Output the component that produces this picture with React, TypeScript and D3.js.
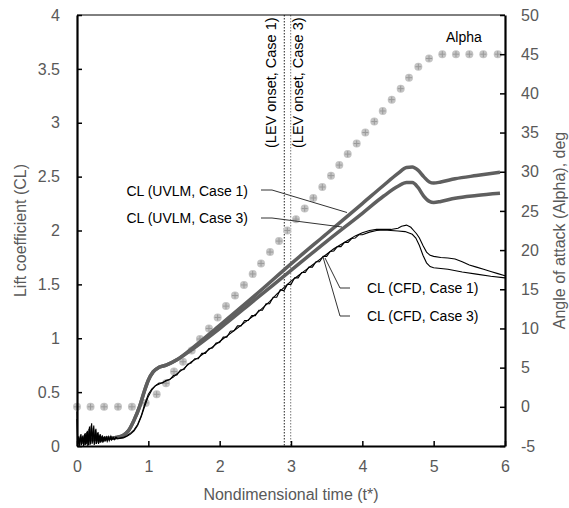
import * as d3 from "d3";
import React, { useRef, useEffect } from "react";

// alpha (deg) markers, right axis
const alphaT = [0, 0.19, 0.38, 0.575, 0.77, 0.963, 1.117, 1.248, 1.36, 1.486, 1.608, 1.724, 1.85, 1.972, 2.089, 2.215, 2.341, 2.463, 2.58, 2.706, 2.832, 2.948, 3.07, 3.192, 3.313, 3.439, 3.561, 3.677, 3.795, 3.921, 4.042, 4.168, 4.286, 4.412, 4.538, 4.654, 4.785, 4.935, 5.121, 5.313, 5.5, 5.696, 5.898];
const alphaDeg = [0, 0, 0, 0, 0, 0.5, 1.6, 3.0, 4.5, 5.75, 7.2, 8.65, 10.0, 11.4, 12.85, 14.2, 15.55, 16.95, 18.3, 19.75, 21.15, 22.5, 23.95, 25.3, 26.65, 28.05, 29.5, 30.85, 32.25, 33.6, 35.0, 36.4, 37.75, 39.2, 40.6, 42.0, 43.4, 44.45, 45, 45, 45, 45, 45];

// UVLM lift
const uvlmT = [0, 0.2, 0.4, 0.55, 0.65, 0.72, 0.8, 0.88, 0.95, 1.0, 1.07, 1.15, 1.25, 1.4, 1.6, 2.0, 2.5, 3.0, 3.5, 4.0, 4.3, 4.5, 4.62, 4.7, 4.78, 4.86, 4.94, 5.0, 5.1, 5.3, 5.6, 5.93];
const uvlmCase1 = [0.06, 0.06, 0.07, 0.08, 0.1, 0.14, 0.24, 0.37, 0.52, 0.61, 0.69, 0.73, 0.75, 0.8, 0.9, 1.12, 1.4, 1.69, 1.97, 2.25, 2.42, 2.53, 2.585, 2.59, 2.56, 2.5, 2.45, 2.44, 2.45, 2.48, 2.51, 2.54];
const uvlmCase3 = [0.06, 0.06, 0.07, 0.08, 0.1, 0.14, 0.24, 0.37, 0.52, 0.61, 0.69, 0.73, 0.75, 0.8, 0.89, 1.09, 1.36, 1.63, 1.9, 2.16, 2.32, 2.41, 2.445, 2.445, 2.4, 2.32, 2.27, 2.26, 2.27, 2.3, 2.325, 2.345];

// CFD lift, case 1
const cfd1T = [0, 0.01, 0.025, 0.04, 0.055, 0.07, 0.085, 0.1, 0.115, 0.13, 0.145, 0.16, 0.175, 0.19, 0.205, 0.22, 0.235, 0.25, 0.265, 0.28, 0.295, 0.31, 0.325, 0.34, 0.355, 0.37, 0.385, 0.4, 0.415, 0.43, 0.445, 0.46, 0.475, 0.49, 0.51, 0.53, 0.55, 0.57, 0.6, 0.65, 0.7, 0.75, 0.8, 0.85, 0.9, 0.95, 1.0, 1.05, 1.1, 1.2, 1.3, 1.35, 1.4, 1.5, 1.6, 1.7, 1.8, 1.9, 2.0, 2.1, 2.2, 2.3, 2.4, 2.5, 2.6, 2.7, 2.8, 2.9, 3.0, 3.1, 3.2, 3.3, 3.4, 3.5, 3.6, 3.7, 3.8, 3.9, 4.0, 4.1, 4.2, 4.3, 4.4, 4.5, 4.55, 4.62, 4.68, 4.72, 4.76, 4.8, 4.85, 4.9, 4.95, 5.0, 5.1, 5.2, 5.3, 5.4, 5.5, 5.6, 5.7, 5.8, 5.9, 6.0];
const cfd1CL = [0.32, 0.02, 0.09, 0.01, 0.11, 0.02, 0.1, 0.01, 0.12, 0.02, 0.14, 0.01, 0.18, 0.02, 0.21, 0.03, 0.19, 0.02, 0.16, 0.03, 0.13, 0.03, 0.11, 0.04, 0.1, 0.04, 0.09, 0.05, 0.09, 0.05, 0.08, 0.06, 0.09, 0.06, 0.08, 0.06, 0.08, 0.07, 0.075, 0.08, 0.095, 0.12, 0.15, 0.2, 0.28, 0.39, 0.48, 0.53, 0.56, 0.59, 0.62, 0.64, 0.67, 0.72, 0.78, 0.82, 0.87, 0.92, 0.97, 1.02, 1.07, 1.12, 1.17, 1.22, 1.28, 1.34, 1.41, 1.47, 1.53, 1.58, 1.63, 1.68, 1.73, 1.78, 1.83, 1.87, 1.91, 1.95, 1.98, 2.0, 2.01, 2.01, 2.01, 2.02, 2.04, 2.05, 2.03, 2.0, 1.97, 1.93, 1.86, 1.8, 1.77, 1.76, 1.75, 1.745, 1.735, 1.71, 1.68, 1.66, 1.64, 1.62, 1.6, 1.58];

// CFD lift, case 3
const cfd3T = [0, 0.008, 0.02, 0.033, 0.048, 0.062, 0.078, 0.092, 0.108, 0.122, 0.138, 0.152, 0.168, 0.182, 0.198, 0.212, 0.228, 0.242, 0.258, 0.272, 0.288, 0.302, 0.318, 0.332, 0.348, 0.362, 0.378, 0.392, 0.408, 0.422, 0.438, 0.452, 0.468, 0.482, 0.5, 0.52, 0.54, 0.56, 0.6, 0.65, 0.7, 0.75, 0.8, 0.85, 0.9, 0.95, 1.0, 1.05, 1.1, 1.15, 1.2, 1.25, 1.3, 1.35, 1.4, 1.45, 1.5, 1.55, 1.6, 1.65, 1.7, 1.75, 1.8, 1.85, 1.9, 1.95, 2.0, 2.05, 2.1, 2.15, 2.2, 2.25, 2.3, 2.35, 2.4, 2.45, 2.5, 2.55, 2.6, 2.65, 2.7, 2.75, 2.8, 2.85, 2.9, 2.95, 3.0, 3.05, 3.1, 3.15, 3.2, 3.25, 3.3, 3.35, 3.4, 3.45, 3.5, 3.55, 3.6, 3.65, 3.7, 3.75, 3.8, 3.85, 3.9, 3.95, 4.0, 4.1, 4.2, 4.3, 4.4, 4.5, 4.6, 4.7, 4.75, 4.8, 4.85, 4.9, 4.95, 5.0, 5.2, 5.4, 5.6, 5.8, 6.0];
const cfd3CL = [0.25, 0.0, 0.07, 0.0, 0.1, 0.01, 0.09, 0.0, 0.11, 0.01, 0.13, 0.0, 0.16, 0.01, 0.19, 0.02, 0.17, 0.01, 0.15, 0.02, 0.12, 0.02, 0.1, 0.03, 0.09, 0.03, 0.085, 0.04, 0.08, 0.045, 0.085, 0.05, 0.08, 0.055, 0.075, 0.06, 0.08, 0.065, 0.07, 0.075, 0.09, 0.11, 0.14, 0.19, 0.27, 0.37, 0.46, 0.52, 0.56, 0.585, 0.585, 0.61, 0.615, 0.655, 0.66, 0.705, 0.71, 0.76, 0.77, 0.81, 0.81, 0.86, 0.86, 0.905, 0.91, 0.955, 0.96, 1.01, 1.01, 1.065, 1.07, 1.115, 1.115, 1.165, 1.165, 1.21, 1.21, 1.26, 1.26, 1.32, 1.32, 1.38, 1.38, 1.45, 1.44, 1.5, 1.5, 1.56, 1.56, 1.61, 1.61, 1.66, 1.66, 1.71, 1.71, 1.76, 1.76, 1.805, 1.81, 1.85, 1.85, 1.89, 1.89, 1.925, 1.93, 1.96, 1.96, 1.985, 2.0, 2.005, 2.0, 1.995, 1.99, 1.965, 1.93, 1.86, 1.77, 1.7, 1.665, 1.655, 1.64, 1.615, 1.595, 1.575, 1.56];

const xTicks = [0, 1, 2, 3, 4, 5, 6];
const yTicks = [0, 0.5, 1, 1.5, 2, 2.5, 3, 3.5, 4];
const y2Ticks = [-5, 0, 5, 10, 15, 20, 25, 30, 35, 40, 45, 50];
const levOnset = [2.906, 2.996];

const font = "Arial, 'Liberation Sans', sans-serif";

function App() {
  const ref = useRef(null);
  const width = 569;
  const height = 508;
  const m = { left: 77, right: 505, top: 15, bottom: 446 };

  const x = d3.scaleLinear().domain([0, 6]).range([m.left, m.right]);
  const y = d3.scaleLinear().domain([0, 4]).range([m.bottom, m.top]);
  const y2 = d3.scaleLinear().domain([-5, 50]).range([m.bottom, m.top]);

  useEffect(() => {
    const svg = d3.select(ref.current);
    svg.selectAll("*").remove();

    const smooth = d3
      .line()
      .x((d) => x(d[0]))
      .y((d) => y(d[1]))
      .curve(d3.curveMonotoneX);
    const raw = d3
      .line()
      .x((d) => x(d[0]))
      .y((d) => y(d[1]));

    // LEV onset lines
    svg
      .selectAll(".lev")
      .data(levOnset)
      .enter()
      .append("line")
      .attr("x1", (d) => x(d))
      .attr("x2", (d) => x(d))
      .attr("y1", m.top)
      .attr("y2", m.bottom)
      .attr("stroke", (d, i) => (i === 0 ? "#222" : "#777"))
      .attr("stroke-width", 1)
      .attr("stroke-dasharray", "1.5,1.5");

    // alpha markers
    const mk = svg
      .selectAll(".alpha")
      .data(alphaT.map((t, i) => [t, alphaDeg[i]]))
      .enter()
      .append("g")
      .attr("transform", (d) => `translate(${x(d[0])},${y2(d[1])})`);
    mk.append("circle").attr("r", 4).attr("fill", "#c4c4c4");
    mk.append("path").attr("d", "M-3,0H3M0,-3V3").attr("stroke", "#9a9a9a").attr("stroke-width", 1);

    // UVLM
    [uvlmCase1, uvlmCase3].forEach((vals) => {
      svg
        .append("path")
        .attr("d", smooth(uvlmT.map((t, i) => [t, vals[i]])))
        .attr("fill", "none")
        .attr("stroke", "#5f5f5f")
        .attr("stroke-width", 3.5);
    });

    // CFD
    [
      [cfd1T, cfd1CL],
      [cfd3T, cfd3CL],
    ].forEach(([ts, vals]) => {
      svg
        .append("path")
        .attr("d", raw(ts.map((t, i) => [t, vals[i]])))
        .attr("fill", "none")
        .attr("stroke", "#000")
        .attr("stroke-width", 1.1);
    });

    // frame
    svg.append("line").attr("x1", m.left).attr("x2", m.right).attr("y1", m.top).attr("y2", m.top).attr("stroke", "#000").attr("stroke-width", 1);

    const styleAxis = (g) => {
      g.select(".domain").attr("stroke", "#000").attr("stroke-width", 2.2);
      g.selectAll(".tick line").attr("stroke", "#000").attr("stroke-width", 1.5);
      g.selectAll("text").attr("fill", "#595959").style("font-size", "16px").style("font-family", font);
    };

    svg
      .append("g")
      .attr("transform", `translate(0,${m.bottom})`)
      .call(d3.axisBottom(x).tickValues(xTicks).tickSize(-5).tickSizeOuter(0).tickPadding(15).tickFormat(d3.format("d")))
      .call(styleAxis);
    svg
      .append("g")
      .attr("transform", `translate(${m.left},0)`)
      .call(d3.axisLeft(y).tickValues(yTicks).tickSize(-5).tickSizeOuter(0).tickPadding(17).tickFormat((d) => String(d)))
      .call(styleAxis);
    svg
      .append("g")
      .attr("transform", `translate(${m.right},0)`)
      .call(d3.axisRight(y2).tickValues(y2Ticks).tickSize(-5).tickSizeOuter(0).tickPadding(16).tickFormat((d) => String(d)))
      .call(styleAxis);
    svg.selectAll(".domain").attr("fill", "none");
  }, []);

  const cx = (m.left + m.right) / 2;
  const cy = (m.top + m.bottom) / 2;

  return (
    <svg width={width} height={height} style={{ position: "absolute", left: 0, top: 0, background: "#fff" }} fontFamily={font}>
      <g ref={ref}></g>
      {/* annotations */}
      <g fontSize={14} fill="#000">
        <text x={446} y={42}>Alpha</text>
        <text transform={`translate(276,148) rotate(-90)`} fontSize={14.5}>(LEV onset, Case 1)</text>
        <text transform={`translate(303,148) rotate(-90)`} fontSize={14.5}>(LEV onset, Case 3)</text>
        <text x={248} y={196} textAnchor="end">CL (UVLM, Case 1)</text>
        <text x={248} y={223} textAnchor="end">CL (UVLM, Case 3)</text>
        <text x={367} y={293}>CL (CFD, Case 1)</text>
        <text x={367} y={321}>CL (CFD, Case 3)</text>
      </g>
      <g fill="none" stroke="#333" strokeWidth={1}>
        <polyline points="261,190 272,190 347,212.5" />
        <polyline points="261,218 272,218 342,227" />
        <polyline points="350,288 340,288 325,258" />
        <polyline points="350,316 340,316 323,257" />
      </g>
      <g fill="#595959" fontSize={16}>
        <text x={cx} y={500} textAnchor="middle">Nondimensional time (t*)</text>
        <text transform={`translate(26,${cy}) rotate(-90)`} textAnchor="middle">Lift coefficient (CL)</text>
        <text transform={`translate(565,${cy}) rotate(-90)`} textAnchor="middle">Angle of attack (Alpha), deg</text>
      </g>
    </svg>
  );
}

export default App;
